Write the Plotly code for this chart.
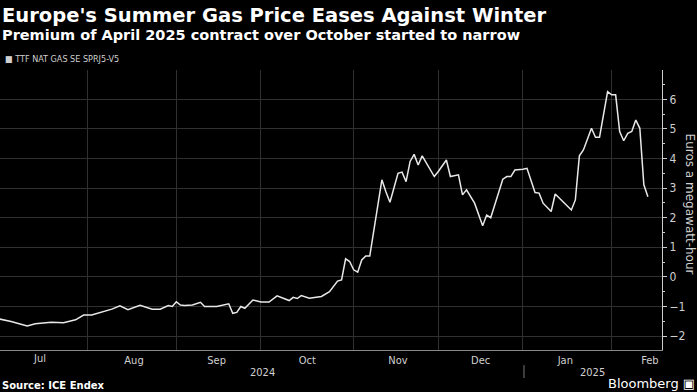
import plotly.graph_objects as go

# Premium of April 2025 contract over October (EUR/MWh), trading days
dates = [
    "2024-07-02", "2024-07-05", "2024-07-11", "2024-07-15", "2024-07-19", "2024-07-24",
    "2024-07-29", "2024-07-31", "2024-08-02", "2024-08-06", "2024-08-09", "2024-08-13",
    "2024-08-15", "2024-08-20", "2024-08-23", "2024-08-27", "2024-08-29", "2024-08-30",
    "2024-09-02", "2024-09-03", "2024-09-04", "2024-09-06", "2024-09-10", "2024-09-11",
    "2024-09-16", "2024-09-19", "2024-09-20", "2024-09-23", "2024-09-24", "2024-09-25",
    "2024-09-27", "2024-10-01", "2024-10-03", "2024-10-07", "2024-10-10", "2024-10-11",
    "2024-10-14", "2024-10-15", "2024-10-17", "2024-10-22", "2024-10-24", "2024-10-28",
    "2024-10-29", "2024-10-30", "2024-10-31", "2024-11-01", "2024-11-04", "2024-11-05",
    "2024-11-06", "2024-11-07", "2024-11-08", "2024-11-12", "2024-11-13", "2024-11-14",
    "2024-11-18", "2024-11-19", "2024-11-20", "2024-11-21", "2024-11-22", "2024-11-25",
    "2024-11-26", "2024-11-27", "2024-11-29", "2024-12-02", "2024-12-04", "2024-12-05",
    "2024-12-09", "2024-12-10", "2024-12-11", "2024-12-13", "2024-12-17", "2024-12-18",
    "2024-12-19", "2024-12-24", "2024-12-26", "2024-12-27", "2024-12-30", "2025-01-02",
    "2025-01-03", "2025-01-07", "2025-01-08", "2025-01-09", "2025-01-13", "2025-01-14",
    "2025-01-15", "2025-01-16", "2025-01-20", "2025-01-21", "2025-01-22", "2025-01-23",
    "2025-01-27", "2025-01-28", "2025-01-29", "2025-01-31", "2025-02-03", "2025-02-04",
    "2025-02-05", "2025-02-06", "2025-02-07", "2025-02-10", "2025-02-11", "2025-02-12",
    "2025-02-13", "2025-02-14",
]
premium = [
    -1.42, -1.51, -1.66, -1.58, -1.53, -1.55,
    -1.45, -1.29, -1.29, -1.22, -1.09, -0.98,
    -1.11, -0.96, -1.09, -1.09, -0.97, -1.00,
    -0.84, -0.95, -0.97, -0.95, -0.86, -1.00,
    -1.00, -0.91, -1.23, -1.20, -1.00, -1.06,
    -0.78, -0.85, -0.85, -0.64, -0.80, -0.69,
    -0.73, -0.63, -0.72, -0.66, -0.50, -0.14,
    -0.10, 0.61, 0.52, 0.24, 0.16, 0.57,
    0.71, 0.71, 1.59, 3.28, 2.88, 2.52,
    3.50, 3.54, 3.22, 3.90, 4.14, 3.78,
    4.09, 3.84, 3.39, 3.56, 3.95, 3.39,
    3.45, 2.77, 2.94, 2.49, 1.73, 2.09,
    2.00, 3.30, 3.39, 3.39, 3.61, 3.64,
    3.67, 2.85, 2.83, 2.49, 2.21, 2.80,
    2.66, 2.52, 2.26, 2.60, 4.09, 4.29,
    5.02, 4.72, 4.72, 6.26, 6.15, 6.15,
    4.91, 4.60, 4.85, 4.91, 5.30, 5.02,
    3.11, 2.71,
]
holidays = ["2024-12-25", "2025-01-01"]
series_name = "TTF NAT GAS SE SPRJ5-V5"
title_text = "Europe's Summer Gas Price Eases Against Winter"
subtitle_text = "Premium of April 2025 contract over October started to narrow"
y_title = "Euros a megawatt-hour"
years = ["2024", "2025"]
first_month_label = "Jul"
first_month_mid = "2024-07-16"

FONT = "DejaVu Sans"
COND = "DejaVu Sans Condensed, DejaVu Sans"
GRID = "#303030"
TXT = "#d0d0d0"

fig = go.Figure()
fig.add_trace(go.Scatter(
    x=dates, y=premium, mode="lines", name=series_name,
    line=dict(color="#e8e8e8", width=1.5), showlegend=False,
))

fig.update_layout(
    width=697, height=392,
    paper_bgcolor="black", plot_bgcolor="black",
    margin=dict(l=0, r=35, t=70, b=42),
    font=dict(family=FONT, color=TXT),
    xaxis=dict(
        type="date",
        range=["2024-07-02 06:00", "2025-02-19 12:00"],
        rangebreaks=[dict(bounds=["sat", "mon"]), dict(values=holidays)],
        tick0="2024-07-01", dtick="M1", tickformat="%b",
        ticklabelmode="period",
        showgrid=True, gridcolor=GRID, gridwidth=1,
        showline=True, linecolor="#888888", linewidth=1,
        ticks="",
        minor=dict(dtick="M1", tick0="2024-07-01", ticks="outside", ticklen=3,
                   tickcolor="#888888", showgrid=False),
        tickfont=dict(family=COND, size=11, color=TXT),
        zeroline=False, automargin=False,
    ),
    yaxis=dict(
        side="right",
        range=[-2.47, 6.99],
        dtick=1, tick0=0,
        showgrid=True, gridcolor=GRID, gridwidth=1,
        showline=True, linecolor="#cccccc", linewidth=1,
        ticks="outside", ticklen=4, tickcolor="#cccccc",
        minor=dict(dtick=0.5, ticks="outside", ticklen=2, tickcolor="#cccccc", showgrid=False),
        tickfont=dict(family=COND, size=12, color=TXT),
        zeroline=False, automargin=False,
    ),
)

ann = [
    dict(text=f"<b>{title_text}</b>", x=0, y=1.196, font=dict(size=19.5, color="white")),
    dict(text=f"<b>{subtitle_text}</b>", x=0, y=1.124, font=dict(size=14.5, color="white")),
    dict(text=f"■ {series_name}", x=0.004, y=1.039, font=dict(family=COND, size=9, color=TXT)),
    dict(text=years[0], x=0.396, y=-0.079, xanchor="center", font=dict(family=COND, size=11, color=TXT)),
    dict(text=years[1], x=0.895, y=-0.079, xanchor="center", font=dict(family=COND, size=11, color=TXT)),
    dict(text="<b>Source: ICE Endex</b>", x=0, y=-0.125, font=dict(size=10, color="white")),
    dict(text="Bloomberg ▣", x=1.053, y=-0.12, xanchor="right", font=dict(size=13, color="white")),
]
for a in ann:
    a.setdefault("xanchor", "left")
    fig.add_annotation(xref="paper", yref="paper", yanchor="middle", showarrow=False, **a)

# label for the partially visible first month (its tick lies left of the range)
fig.add_annotation(
    text=first_month_label, xref="x", yref="paper", x=first_month_mid, y=0,
    yanchor="top", yshift=0, showarrow=False,
    font=dict(family=COND, size=11, color=TXT),
)

fig.add_annotation(
    text=y_title, xref="paper", yref="paper", x=1.042, y=0.52,
    textangle=90, showarrow=False, xanchor="center", yanchor="middle",
    font=dict(size=12, color=TXT),
)

fig.add_shape(type="line", xref="paper", yref="paper",
              x0=0.7915, x1=0.7915, y0=-0.054, y1=-0.1,
              line=dict(color="#777777", width=1))

fig.write_html(
    "out.html",
    config={"displayModeBar": False},
    post_script="document.body.style.margin='0';document.body.style.overflow='hidden';",
)
